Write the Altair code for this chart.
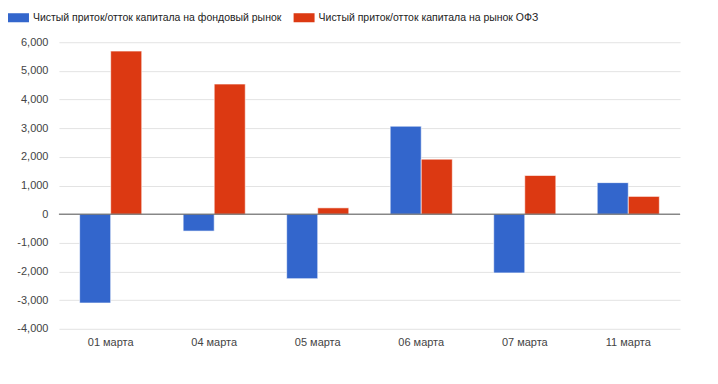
import altair as alt
import pandas as pd

dates = ["01 марта", "04 марта", "05 марта", "06 марта", "07 марта", "11 марта"]
stock = [-3100, -590, -2250, 3070, -2050, 1100]
ofz = [5690, 4540, 220, 1920, 1350, 620]
series = ["Чистый приток/отток капитала на фондовый рынок",
          "Чистый приток/отток капитала на рынок ОФЗ"]
colors = ["#3366cc", "#dc3912"]
y_ticks = [-4000, -3000, -2000, -1000, 0, 1000, 2000, 3000, 4000, 5000, 6000]

rows = []
for d, s, o in zip(dates, stock, ofz):
    rows.append({"date": d, "series": series[0], "value": s})
    rows.append({"date": d, "series": series[1], "value": o})
df = pd.DataFrame(rows)
zero_df = pd.DataFrame({"value": [0]})

FONT = "Liberation Sans"

y_scale = alt.Scale(domain=[-4000, 6000], nice=False)
y_axis = alt.Axis(values=y_ticks, ticks=False, domain=False, labelPadding=11,
                  labelFontSize=11, labelColor="#444", labelFont=FONT,
                  labelOverlap=False,
                  gridColor="#e3e3e3", gridWidth=1,
                  labelExpr="replace(format(datum.value, ','), '\u2212', '-')")

bars = alt.Chart(df).mark_bar(stroke="white", strokeWidth=0.6).encode(
    x=alt.X("date:N", sort=dates, title=None,
            scale=alt.Scale(paddingInner=0.4, paddingOuter=0.2),
            axis=alt.Axis(labelAngle=0, ticks=False, domain=False, labelPadding=8,
                          labelFontSize=11, labelColor="#444", labelFont=FONT)),
    xOffset=alt.XOffset("series:N", sort=series, scale=alt.Scale(paddingInner=0)),
    y=alt.Y("value:Q", title=None, scale=y_scale, axis=y_axis),
    color=alt.Color("series:N", sort=series,
                    scale=alt.Scale(domain=series, range=colors),
                    legend=alt.Legend(title=None, orient="none", direction="horizontal",
                                      legendX=-51, legendY=-35,
                                      symbolType="M-1,-0.43H1V0.43H-1Z", symbolSize=441,
                                      symbolStrokeWidth=0, symbolOpacity=1,
                                      labelFontSize=10.5, labelColor="#222", labelFont=FONT,
                                      labelOffset=4, columnPadding=11, labelLimit=400)),
)

zero = alt.Chart(zero_df).mark_rule(color="#555", strokeWidth=1).encode(
    y=alt.Y("value:Q", title=None, scale=y_scale, axis=y_axis)
)

chart = alt.layer(bars, zero).properties(
    width=622, height=287,
    autosize=alt.AutoSizeParams(type="none"),
    padding={"left": 51, "top": 34, "right": 30, "bottom": 40},
).configure_view(stroke=None)

chart.save("out.html", embed_options={"renderer": "svg", "actions": False})
